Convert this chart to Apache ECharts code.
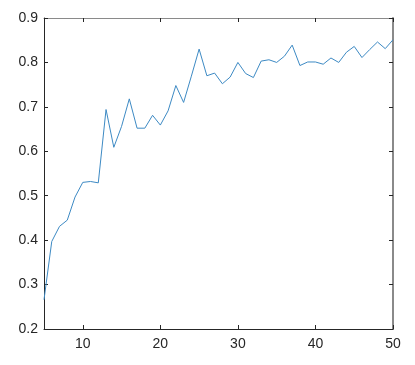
<!DOCTYPE html>
<html>
<head>
<meta charset="utf-8">
<script src="https://cdn.jsdelivr.net/npm/echarts@6/dist/echarts.min.js"></script>
<style>
  html, body { margin: 0; padding: 0; background: #fff; }
  #main { width: 415px; height: 365px; }
</style>
</head>
<body>
<div id="main"></div>
<script>
// x values (epochs) and accuracy
const xValues = [5, 6, 7, 8, 9, 10, 11, 12, 13, 14, 15, 16, 17, 18, 19, 20, 21, 22, 23, 24, 25, 26, 27,
  28, 29, 30, 31, 32, 33, 34, 35, 36, 37, 38, 39, 40, 41, 42, 43, 44, 45, 46, 47, 48, 49, 50]
const yValues = [0.266, 0.397, 0.431, 0.445, 0.497, 0.530, 0.532, 0.529, 0.694, 0.609, 0.656, 0.718,
  0.652, 0.652, 0.681, 0.659, 0.691, 0.748, 0.710, 0.769, 0.830, 0.770, 0.776, 0.752, 0.767, 0.800,
  0.775, 0.766, 0.803, 0.806, 0.800, 0.814, 0.839, 0.793, 0.801, 0.801, 0.796, 0.810, 0.800, 0.823,
  0.836, 0.811, 0.829, 0.846, 0.831, 0.851]
const xTicks = [10, 20, 30, 40, 50]

let myChart = echarts.init(document.getElementById('main'))
let points = xValues.map((x, i) => [x, yValues[i]])

let labelStyle = {
  color: '#262626',
  fontFamily: 'Liberation Sans, Arial, sans-serif',
  fontSize: 14
}

myChart.setOption({
  animation: false,
  backgroundColor: '#ffffff',
  grid: { left: 44, right: 22, top: 18, bottom: 36, containLabel: false },
  xAxis: [
    {
      type: 'value',
      min: 5,
      max: 50,
      axisLine: { lineStyle: { color: '#262626', width: 1 } },
      axisTick: { inside: true, length: 4, customValues: xTicks, lineStyle: { color: '#262626' } },
      axisLabel: Object.assign({ customValues: xTicks, margin: 8 }, labelStyle),
      splitLine: { show: false }
    },
    {
      type: 'value',
      position: 'top',
      min: 5,
      max: 50,
      axisLine: { lineStyle: { color: '#8a8a8a', width: 1 } },
      axisTick: { inside: true, length: 4, customValues: xTicks, lineStyle: { color: '#262626' } },
      axisLabel: { show: false },
      splitLine: { show: false }
    }
  ],
  yAxis: [
    {
      type: 'value',
      min: 0.2,
      max: 0.9,
      interval: 0.1,
      axisLine: { show: true, lineStyle: { color: '#262626', width: 1 } },
      axisTick: { show: true, inside: true, length: 4, lineStyle: { color: '#262626' } },
      axisLabel: Object.assign({ margin: 6, formatter: v => v.toFixed(1) }, labelStyle),
      splitLine: { show: false }
    },
    {
      type: 'value',
      position: 'right',
      min: 0.2,
      max: 0.9,
      interval: 0.1,
      axisLine: { show: true, lineStyle: { color: '#8a8a8a', width: 2 } },
      axisTick: { show: true, inside: true, length: 4, lineStyle: { color: '#262626' } },
      axisLabel: { show: false },
      splitLine: { show: false }
    }
  ],
  series: [
    {
      type: 'line',
      data: points,
      showSymbol: false,
      lineStyle: { color: '#3d8ac4', width: 1 }
    }
  ]
})
</script>
</body>
</html>
